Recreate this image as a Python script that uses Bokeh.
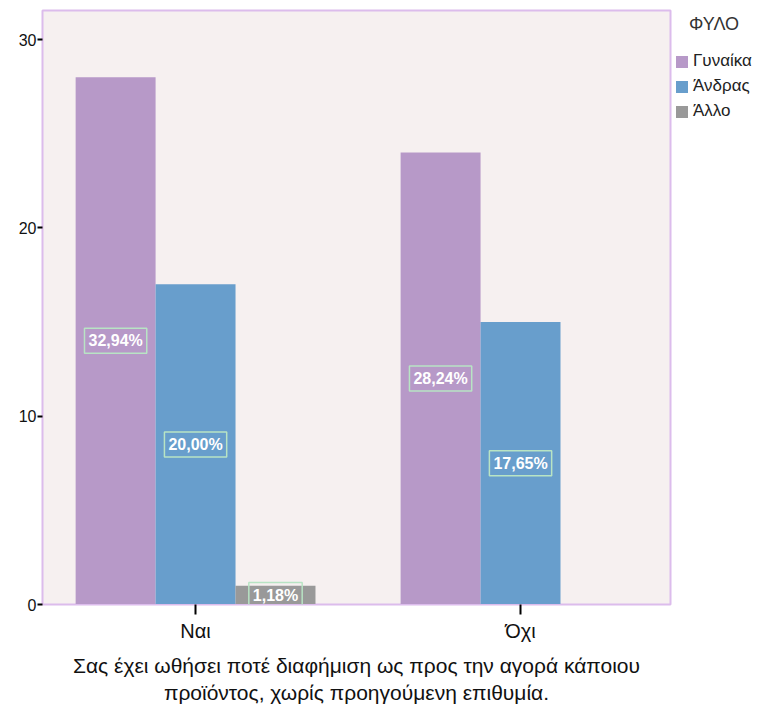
from bokeh.plotting import figure
from bokeh.models import ColumnDataSource, Label, Legend, LegendItem, FixedTicker, Range1d
from bokeh.embed import file_html
from bokeh.resources import INLINE

categories = ["Ναι", "Όχι"]
groups = ["Γυναίκα", "Άνδρας", "Άλλο"]
counts_female = [28, 24]
counts_male = [17, 15]
counts_other = [1, 0]
pct_female = ["32,94%", "28,24%"]
pct_male = ["20,00%", "17,65%"]
pct_other = ["1,18%", ""]
colors = ["#b799c8", "#689ecc", "#999999"]
y_ticks = [0, 10, 20, 30]
legend_title = "ΦΥΛΟ"
x_title = "Σας έχει ωθήσει ποτέ διαφήμιση ως προς την αγορά κάποιου\nπροϊόντος, χωρίς προηγούμενη επιθυμία."

FONT = "Liberation Sans"
bar_w = 0.246

p = figure(frame_width=628, frame_height=594, output_backend="svg", toolbar_location=None,
           x_range=Range1d(0.529, 2.4615), y_range=Range1d(0, 31.54),
           min_border_left=42, min_border_top=10, min_border_right=94, min_border_bottom=102)
p.background_fill_color = "#f6f0f0"
p.outline_line_color = "#dcbcec"
p.outline_line_width = 2
p.grid.visible = False

series = [counts_female, counts_male, counts_other]
pcts = [pct_female, pct_male, pct_other]
offsets = [-bar_w, 0.0, bar_w]
renderers = []
for vals, pc, off, col in zip(series, pcts, offsets, colors):
    xs = [i + 1 + off for i in range(len(categories))]
    src = ColumnDataSource(dict(x=xs, top=vals))
    r = p.vbar(x="x", top="top", width=bar_w, source=src, fill_color=col, line_color=None)
    renderers.append(r)
    for x, v, t in zip(xs, vals, pc):
        if not t:
            continue
        p.add_layout(Label(x=x, y=v / 2, text=t, text_align="center", text_baseline="middle",
                           text_color="white", text_font=FONT, text_font_style="bold",
                           text_font_size="16px", border_line_color="#b8e4c4",
                           border_line_width=1.5, padding=4))

legend = Legend(items=[LegendItem(label=g, renderers=[r]) for g, r in zip(groups, renderers)],
                location="top_left", title="\u00a0\u00a0\u00a0" + legend_title,
                title_text_font=FONT, title_text_font_size="18px", title_text_font_style="normal",
                title_text_color="#333333", title_standoff=16,
                label_text_font=FONT, label_text_font_size="17px", label_text_color="#222222",
                glyph_width=15, glyph_height=15, label_standoff=4, spacing=5,
                padding=6, margin=4,
                border_line_color=None, background_fill_alpha=0)
p.add_layout(legend, "right")

p.yaxis.ticker = FixedTicker(ticks=y_ticks)
p.yaxis.minor_tick_line_color = None
p.yaxis.major_tick_out = 5
p.yaxis.major_tick_in = 0
p.yaxis.major_tick_line_color = "black"
p.yaxis.major_tick_line_width = 2
p.yaxis.axis_line_color = "#dcbcec"
p.yaxis.major_label_standoff = 1
p.yaxis.major_label_text_font = FONT
p.yaxis.major_label_text_font_size = "16px"
p.yaxis.major_label_text_color = "#111111"

p.xaxis.ticker = FixedTicker(ticks=[1, 2])
p.xaxis.major_label_overrides = {1: categories[0], 2: categories[1]}
p.xaxis.minor_tick_line_color = None
p.xaxis.major_tick_out = 10
p.xaxis.major_tick_in = 0
p.xaxis.major_tick_line_color = "black"
p.xaxis.major_tick_line_width = 2
p.xaxis.axis_line_color = "#dcbcec"
p.xaxis.major_label_text_font = FONT
p.xaxis.major_label_text_font_size = "20px"
p.xaxis.major_label_text_color = "#111111"
p.xaxis.major_label_standoff = 5
p.xaxis.axis_label = x_title
p.xaxis.axis_label_text_font = FONT
p.xaxis.axis_label_text_font_size = "21px"
p.xaxis.axis_label_text_font_style = "normal"
p.xaxis.axis_label_text_color = "#111111"
p.xaxis.axis_label_standoff = 9

open("out.html", "w").write(file_html(p, INLINE))
